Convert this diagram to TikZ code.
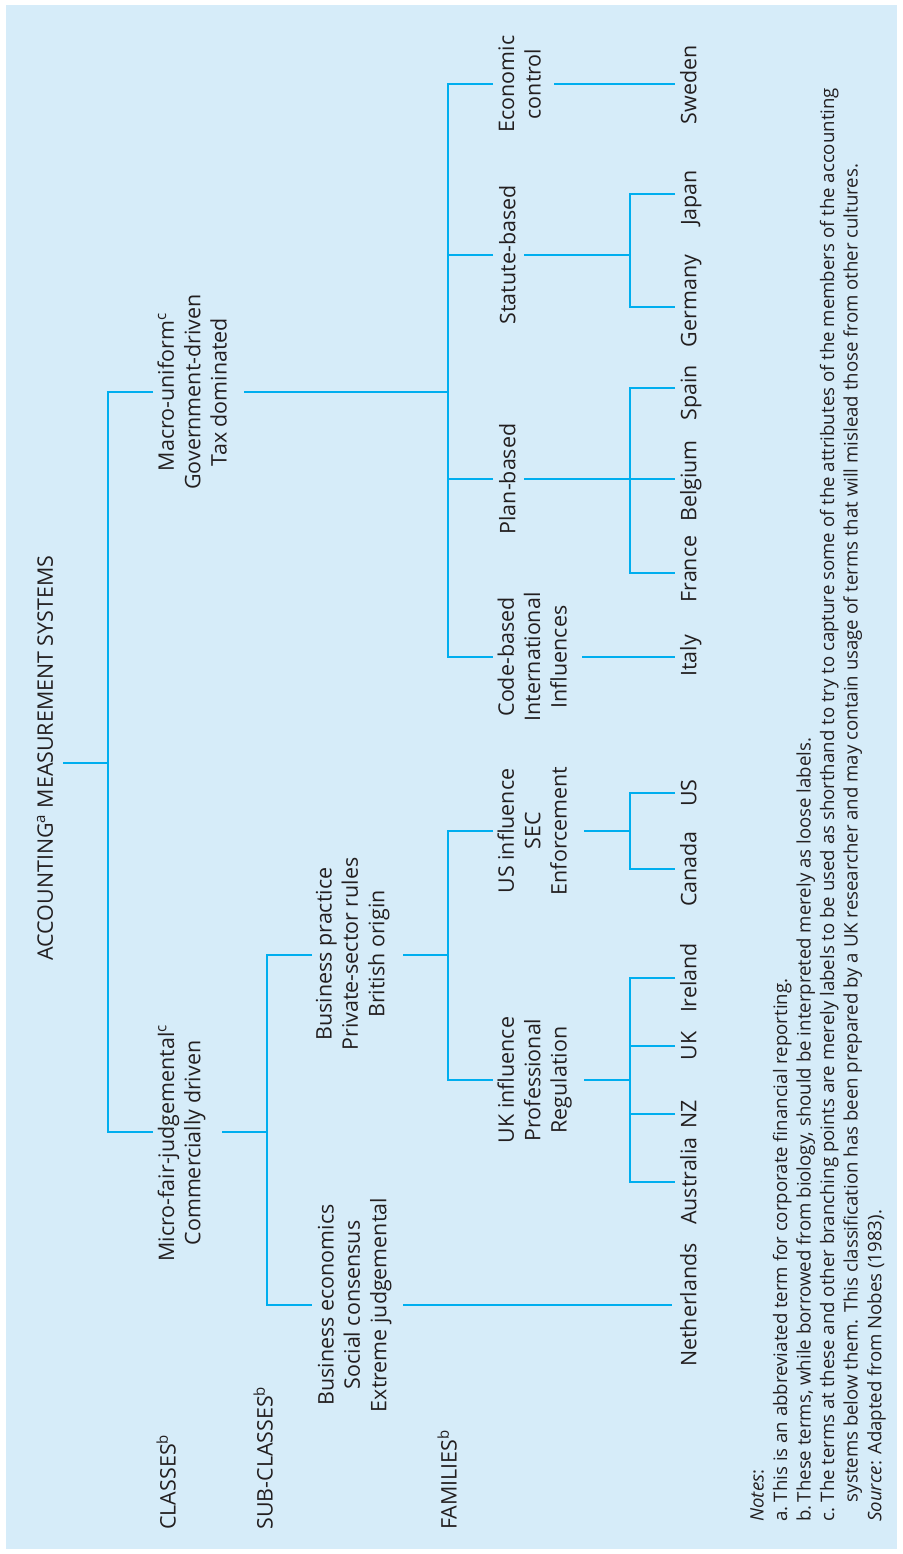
\documentclass[tikz,border=0pt]{standalone}
\usepackage{fontspec}
\setmainfont{Open Sans}
\definecolor{panel}{RGB}{214,236,249}
\definecolor{wire}{RGB}{0,174,239}
\definecolor{ink}{RGB}{35,31,32}

\begin{document}
\begin{tikzpicture}[x=0.02cm,y=-0.02cm,
  lbl/.style={rotate=90, align=center, inner sep=0pt, text=ink,
    font=\fontsize{12.2}{15}\selectfont,
    execute at begin node=\strut, execute at end node=\strut},
  tag/.style={lbl, anchor=west},
  notebox/.style={rotate=90, align=left, inner sep=0pt, text=ink,
    font=\fontsize{10.6}{13.4}\selectfont,
    execute at begin node=\strut, execute at end node=\strut},
  conn/.style={draw=wire, line width=1.5pt}]

% panel
\useasboundingbox (0,0) rectangle (902,1554);
\fill[panel] (6,5) rectangle (897,1549);

% level titles
\node[tag] (classes) at (170,1530) {CLASSES\textsuperscript{b}};
\node[tag] (subclasses) at (267,1530) {SUB-CLASSES\textsuperscript{b}};
\node[tag] (families) at (451,1530) {FAMILIES\textsuperscript{b}};

% tree labels
\node[lbl] (root) at (47.5,758) {ACCOUNTING\textsuperscript{a} MEASUREMENT SYSTEMS};
\node[lbl] (micro) at (183,1143) {Micro-fair-judgemental\textsuperscript{c}\\Commercially driven};
\node[lbl] (macro) at (196,392) {Macro-uniform\textsuperscript{c}\\Government-driven\\Tax dominated};
\node[lbl] (becon) at (356,1305) {Business economics\\Social consensus\\Extreme judgemental};
\node[lbl] (bprac) at (354,954) {Business practice\\Private-sector rules\\British origin};
\node[lbl] (uki) at (536,1080) {UK influence\\Professional\\Regulation};
\node[lbl] (usi) at (536,831) {US influence\\SEC\\Enforcement};
\node[lbl] (code) at (536,657) {Code-based\\International\\Influences};
\node[lbl] (plan) at (510,479) {Plan-based};
\node[lbl] (stat) at (510,255) {Statute-based};
\node[lbl] (econ) at (523.5,84) {Economic\\control};

% countries
\node[lbl] (netherlands) at (691,1305) {Netherlands};
\node[lbl] (australia) at (691,1181) {Australia};
\node[lbl] (nz) at (691,1114) {NZ};
\node[lbl] (uk) at (691,1046) {UK};
\node[lbl] (ireland) at (691,978) {Ireland};
\node[lbl] (canada) at (691,869) {Canada};
\node[lbl] (us) at (691,793) {US};
\node[lbl] (italy) at (691,656) {Italy};
\node[lbl] (france) at (691,569) {France};
\node[lbl] (belgium) at (691,481) {Belgium};
\node[lbl] (spain) at (691,393) {Spain};
\node[lbl] (germany) at (691,301) {Germany};
\node[lbl] (japan) at (691,198) {Japan};
\node[lbl] (sweden) at (691,85) {Sweden};

% connector ends and branch points
\coordinate (root-out) at (63,763);
\coordinate (k0) at (108,763);
\coordinate (macro-in) at (153,392);
\coordinate (micro-in) at (153,1132);
\coordinate (macro-out) at (244,392);
\coordinate (km) at (448,392);
\coordinate (micro-out) at (222,1132);
\coordinate (kmi) at (267,1132);
\coordinate (bprac-in) at (312,955);
\coordinate (becon-in) at (312,1305);
\coordinate (bprac-out) at (403,955);
\coordinate (kbp) at (448,955);
\coordinate (becon-out) at (403,1305);
\coordinate (usi-in) at (493,831);
\coordinate (uki-in) at (493,1080);
\coordinate (usi-out) at (584,831);
\coordinate (uki-out) at (584,1080);
\coordinate (kus) at (630,831);
\coordinate (kuk) at (630,1080);
\coordinate (econ-in) at (493,84);
\coordinate (stat-in) at (493,255);
\coordinate (plan-in) at (493,479);
\coordinate (code-in) at (493,657);
\coordinate (econ-out) at (554,84);
\coordinate (stat-out) at (524,255);
\coordinate (plan-out) at (524,479);
\coordinate (code-out) at (582,657);
\coordinate (kst) at (630,255);
\coordinate (kpl) at (630,479);
\coordinate (netherlands-in) at (672,1305);
\coordinate (australia-in) at (675,1182);
\coordinate (nz-in) at (675,1114);
\coordinate (uk-in) at (675,1046);
\coordinate (ireland-in) at (675,978);
\coordinate (canada-in) at (675,869);
\coordinate (us-in) at (675,793);
\coordinate (italy-in) at (675,657);
\coordinate (france-in) at (675,573);
\coordinate (belgium-in) at (675,479);
\coordinate (spain-in) at (675,388);
\coordinate (germany-in) at (675,307);
\coordinate (japan-in) at (675,194);
\coordinate (sweden-in) at (675,84);

% classes
\draw[conn] (root-out) -- (k0);
\draw[conn] (macro-in) -| (k0) |- (micro-in);

% micro side
\draw[conn] (micro-out) -- (kmi);
\draw[conn] (bprac-in) -| (kmi) |- (becon-in);
\draw[conn] (becon-out) -- (netherlands-in);
\draw[conn] (bprac-out) -- (kbp);
\draw[conn] (usi-in) -| (kbp) |- (uki-in);
\draw[conn] (uki-out) -- (kuk);
\draw[conn] (ireland-in) -| (kuk) |- (australia-in);
\draw[conn] (uk-in) -- (uk-in -| kuk);
\draw[conn] (nz-in) -- (nz-in -| kuk);
\draw[conn] (usi-out) -- (kus);
\draw[conn] (us-in) -| (kus) |- (canada-in);

% macro side
\draw[conn] (macro-out) -- (km);
\draw[conn] (econ-in) -| (km) |- (code-in);
\draw[conn] (stat-in) -- (stat-in -| km);
\draw[conn] (plan-in) -- (plan-in -| km);
\draw[conn] (econ-out) -- (sweden-in);
\draw[conn] (code-out) -- (italy-in);
\draw[conn] (plan-out) -- (belgium-in);
\draw[conn] (spain-in) -| (kpl) |- (france-in);
\draw[conn] (stat-out) -- (kst);
\draw[conn] (japan-in) -| (kst) |- (germany-in);

% notes
\node[notebox, anchor=west] (notes) at (819.3,1522) {\textit{Notes}:\\
\makebox[1.05em][l]{a.}This is an abbreviated term for corporate financial reporting.\\
\makebox[1.05em][l]{b.}These terms, while borrowed from biology, should be interpreted merely as loose labels.\\
\makebox[1.05em][l]{c.}The terms at these and other branching points are merely labels to be used as shorthand to try to capture some of the attributes of the members of the accounting\\
\hspace*{1.05em}systems below them. This classification has been prepared by a UK researcher and may contain usage of terms that will mislead those from other cultures.\\
\textit{Source}: Adapted from Nobes (1983).};
\end{tikzpicture}
\end{document}
